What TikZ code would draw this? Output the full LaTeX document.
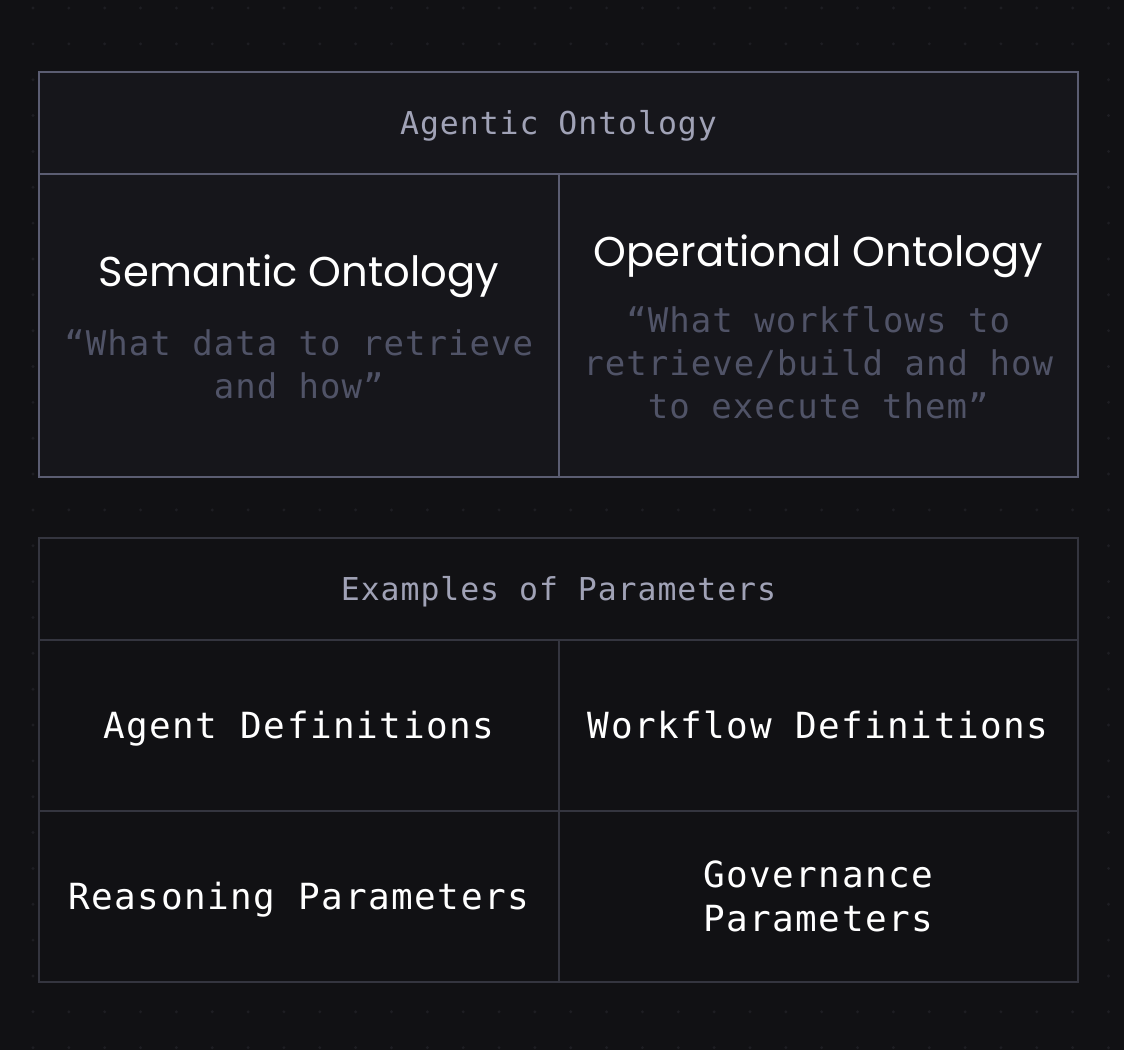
\documentclass[tikz,border=0pt]{standalone}
\usepackage{fontspec}
\usepackage{xcolor}
\usepackage{tikz}
\usetikzlibrary{positioning}
\setmainfont{DejaVu Sans}
\newfontfamily\titlefont{Poppins}
\newfontfamily\codefont[LetterSpace=3]{DejaVu Sans Mono}
\newfontfamily\labelfont[LetterSpace=4.2]{DejaVu Sans Mono}
\definecolor{bgcol}{HTML}{111114}
\definecolor{dotcol}{HTML}{1E1E23}
\definecolor{topfill}{HTML}{16161B}
\definecolor{topline}{HTML}{5B5D72}
\definecolor{botfill}{HTML}{111114}
\definecolor{botline}{HTML}{34353F}
\definecolor{capcol}{HTML}{A0A2B6}
\definecolor{quotecol}{HTML}{505367}
\tikzset{
	cell/.style={draw, line width=2pt, outer sep=0pt, inner sep=0pt},
	topcell/.style={cell, draw=topline, fill=topfill},
	botcell/.style={cell, draw=botline, fill=botfill}
}

\begin{document}
\begin{tikzpicture}[
	x=1pt, y=-1pt,
	wide/.style={minimum width=1039pt, minimum height=102pt},
	half/.style={minimum width=519.5pt},
	caption/.style={font=\codefont\fontsize{31.5}{40}\selectfont, text=capcol, text height=23pt, text depth=0pt},
	label/.style={font=\labelfont\fontsize{36}{44}\selectfont, text=white},
	oneline/.style={text height=26pt, text depth=0pt},
	title/.style={font=\titlefont\fontsize{41.7}{50}\selectfont, text=white, anchor=base, inner sep=0pt},
	quote/.style={font=\codefont\fontsize{34}{43}\selectfont, text=quotecol, align=center, anchor=north, inner sep=0pt},
	node distance=0pt]
	% background and dot grid
	\fill[bgcol] (0,0) rectangle (1124,1050);
	\useasboundingbox (0,0) rectangle (1124,1050);
	\foreach \i in {0,...,31}
		\foreach \j in {0,...,29}
			\fill[dotcol] (33+\i*35.85, 8+\j*35.85) circle (1.6);

	% agentic ontology
	\node[topcell, wide, caption, anchor=north west] (agentic) at (39,72) {Agentic Ontology};
	\node[topcell, half, minimum height=303pt, below right=0pt and 0pt of agentic.south west] (semantic) {};
	\node[topcell, half, minimum height=303pt, right=of semantic] (operational) {};
	\node[title] (semtitle) at (298.75,286) {Semantic Ontology};
	\node[quote] (semquote) at (298.75,329) {“What data to retrieve\\and how”};
	\node[title] (optitle) at (818.25,266) {Operational Ontology};
	\node[quote] (opquote) at (818.25,306) {“What workflows to\\retrieve/build and how\\to execute them”};

	% examples of parameters
	\node[botcell, wide, caption, anchor=north west] (examples) at (39,538) {Examples of Parameters};
	\node[botcell, half, minimum height=171pt, label, oneline, below right=0pt and 0pt of examples.south west] (agentdef) {Agent Definitions};
	\node[botcell, half, minimum height=171pt, label, oneline, right=of agentdef] (workdef) {Workflow Definitions};
	\node[botcell, half, minimum height=171pt, label, oneline, below=of agentdef] (reasoning) {Reasoning Parameters};
	\node[botcell, half, minimum height=171pt, label, align=left, right=of reasoning] (governance) {Governance\\Parameters};
\end{tikzpicture}
\end{document}
